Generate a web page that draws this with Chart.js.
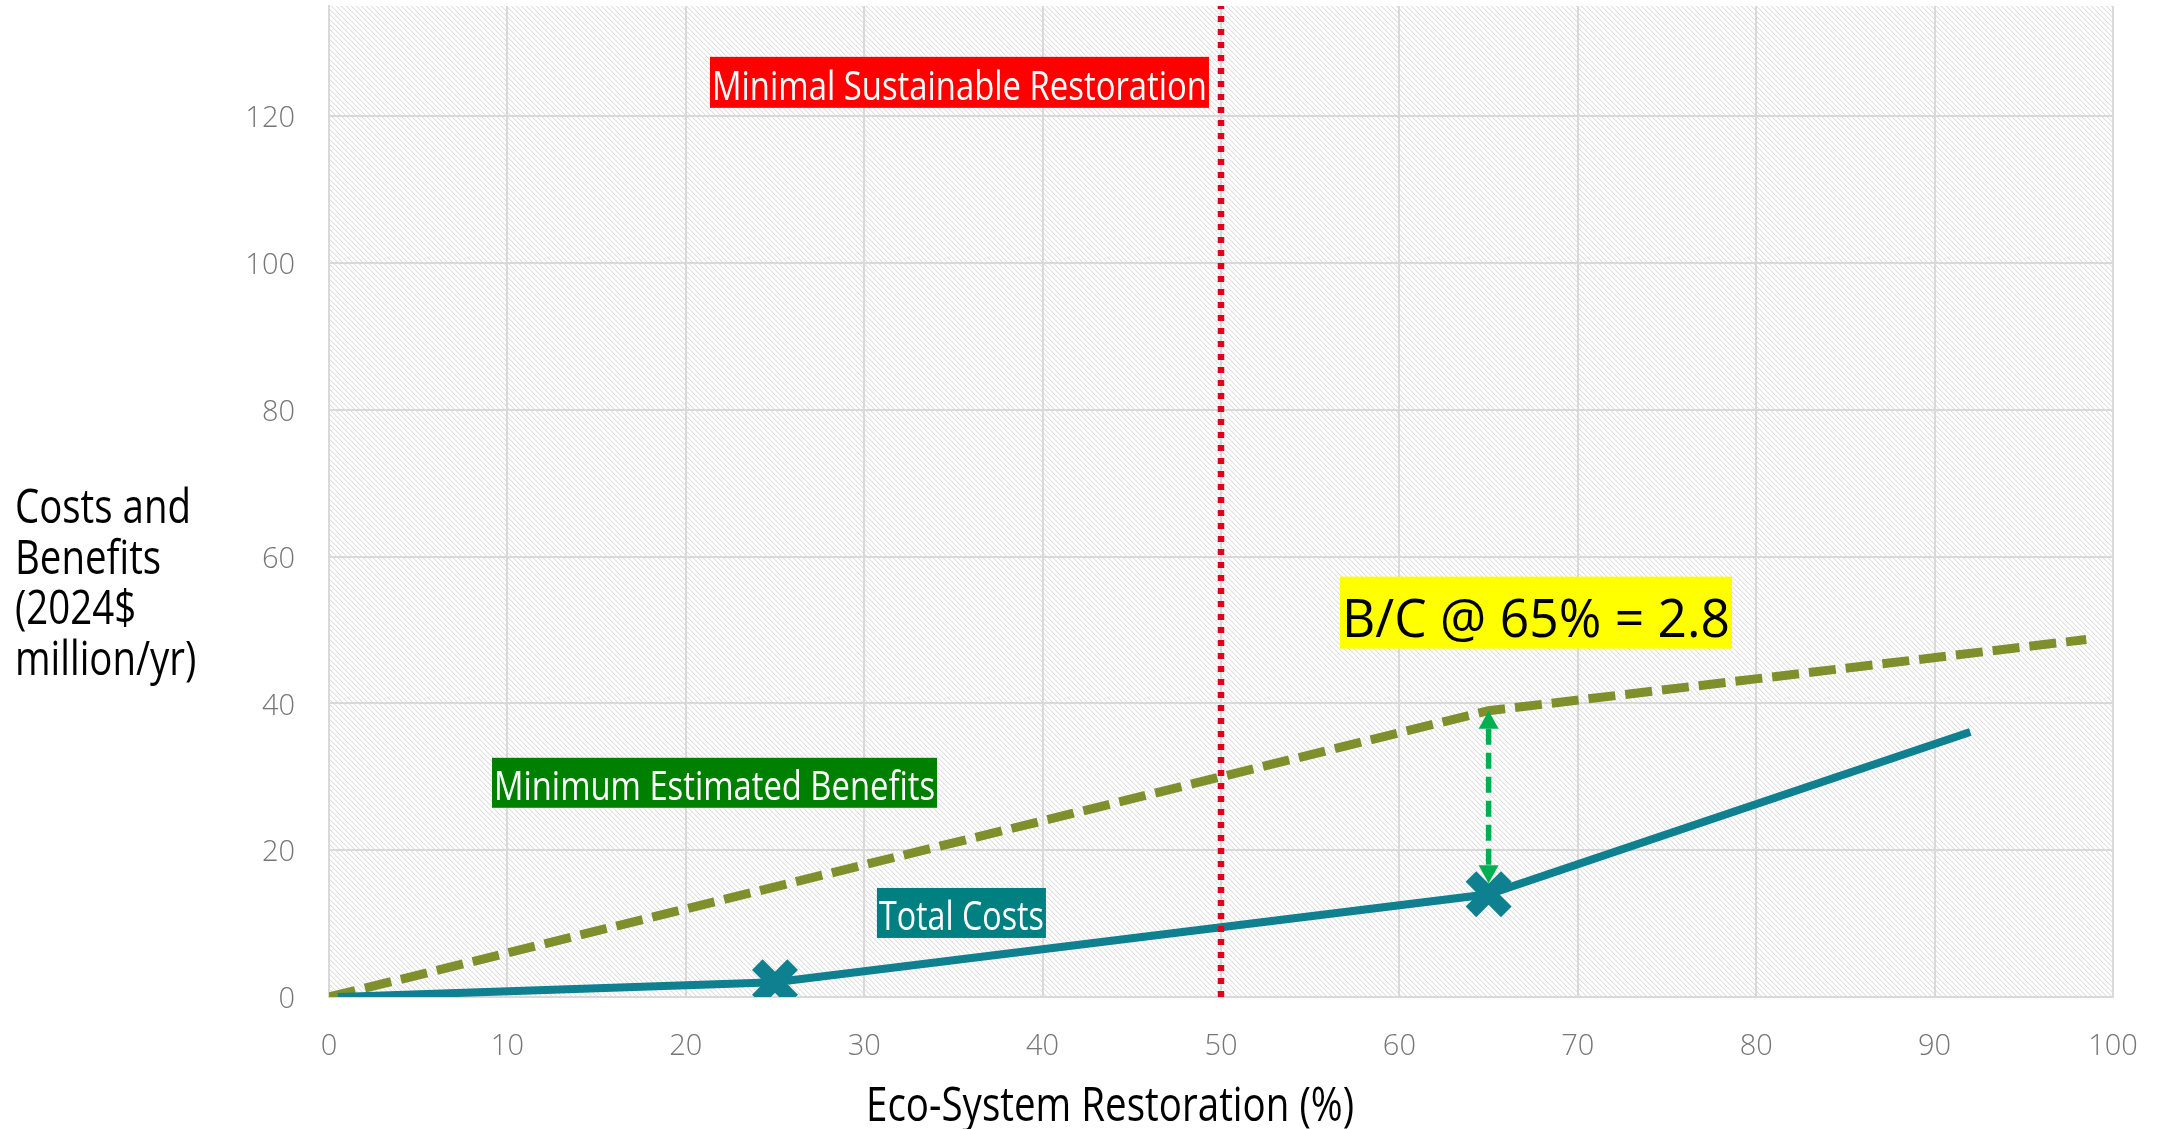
<!DOCTYPE html>
<html>
<head>
<meta charset="utf-8">
<script src="https://cdn.jsdelivr.net/npm/chart.js@4.4.1/dist/chart.umd.min.js"></script>
<style>
  html, body { margin: 0; padding: 0; background: #ffffff; }
  #wrap { width: 2160px; height: 1129px; position: relative; }
</style>
</head>
<body>
<div id="wrap"><canvas id="chart"></canvas></div>
<script>
// ---- data -------------------------------------------------------------
// Eco-system restoration (%) and annual values (2024$ million/yr)
const costX = [0.5, 25, 65, 92];
const costY = [0, 2, 14, 36.1];
const costMarked = [false, true, true, false];

const benefitX = [0, 65, 98.5];
const benefitY = [0, 39, 48.7];

const thresholdX = 50;          // minimal sustainable restoration level
const arrowX = 65;              // where the benefit/cost gap is shown
const arrowRange = [15.5, 39];  // arrow runs from just above the cost marker up to the benefit line

const xTickValues = [0, 10, 20, 30, 40, 50, 60, 70, 80, 90, 100];
const yTickValues = [0, 20, 40, 60, 80, 100, 120];

const calloutTexts = [
  'Minimal Sustainable Restoration',
  'Minimum Estimated Benefits',
  'Total Costs',
  'B/C @ 65% = 2.8'
];
const yTitleLines = ['Costs and', 'Benefits', '(2024$', 'million/yr)'];
const xTitleText = 'Eco-System Restoration (%)';

// ---- styling ------------------------------------------------------------
const FONT = '"Open Sans", "Noto Sans", sans-serif';
const GRID = '#d9d9d9';
const TICK = '#767676';

// callout boxes: centre in data units, box size in px
const calloutStyle = [
  { x: 35.34, y: 124.6, w: 499, h: 51, size: 41, base: 18, bg: '#ff0000', fg: '#ffffff' },
  { x: 21.61, y: 29.18, w: 445, h: 50, size: 40, base: 17, bg: '#008000', fg: '#ffffff' },
  { x: 35.45, y: 11.45, w: 169, h: 50, size: 40, base: 17, bg: '#008080', fg: '#ffffff' },
  { x: 67.66, y: 52.36, w: 392, h: 72, size: 53, base: 24, bg: '#ffff00', fg: '#000000' }
];

function toPoints(xs, ys) { return xs.map((x, i) => ({ x: x, y: ys[i] })); }

// light downward-diagonal hatch used as the plot background
function makeHatch(ctx) {
  const n = 5;
  const c = document.createElement('canvas');
  c.width = n; c.height = n;
  const g = c.getContext('2d');
  const img = g.createImageData(n, n);
  for (let y = 0; y < n; y++) {
    for (let x = 0; x < n; x++) {
      const k = ((x - y) % n + n) % n;
      const v = k === 0 ? 224 : (k === 1 ? 242 : 255);
      const i = (y * n + x) * 4;
      img.data[i] = img.data[i + 1] = img.data[i + 2] = v;
      img.data[i + 3] = 255;
    }
  }
  g.putImageData(img, 0, 0);
  return ctx.createPattern(c, 'repeat');
}

// text squeezed horizontally to a given width
function fitText(ctx, text, x, y, size, color, width, align) {
  ctx.save();
  ctx.font = size + 'px ' + FONT;
  const w = ctx.measureText(text).width;
  const sx = width / w;
  ctx.translate(x, y);
  ctx.scale(sx, 1);
  ctx.fillStyle = color;
  ctx.textAlign = align;
  ctx.textBaseline = 'alphabetic';
  ctx.fillText(text, 0, 0);
  ctx.restore();
  return sx;
}

const backgroundPlugin = {
  id: 'hatchBackground',
  beforeDraw(chart) {
    const { ctx, chartArea: a } = chart;
    ctx.save();
    ctx.fillStyle = makeHatch(ctx);
    ctx.fillRect(a.left, a.top, a.right - a.left, a.bottom - a.top);
    ctx.restore();
  }
};

const arrowPlugin = {
  id: 'gapArrow',
  afterDatasetsDraw(chart) {
    const { ctx } = chart;
    const xs = chart.scales.x, ys = chart.scales.y;
    const px = xs.getPixelForValue(arrowX);
    const yLow = ys.getPixelForValue(arrowRange[0]);
    const yHigh = ys.getPixelForValue(arrowRange[1]);
    const head = 18, half = 10;
    ctx.save();
    ctx.strokeStyle = '#00b050';
    ctx.fillStyle = '#00b050';
    ctx.lineWidth = 5.5;
    ctx.setLineDash([16, 8]);
    ctx.beginPath();
    ctx.moveTo(px, yHigh + head);
    ctx.lineTo(px, yLow - head);
    ctx.stroke();
    ctx.setLineDash([]);
    ctx.beginPath();
    ctx.moveTo(px, yHigh);
    ctx.lineTo(px - half, yHigh + head);
    ctx.lineTo(px + half, yHigh + head);
    ctx.closePath();
    ctx.fill();
    ctx.beginPath();
    ctx.moveTo(px, yLow);
    ctx.lineTo(px - half, yLow - head);
    ctx.lineTo(px + half, yLow - head);
    ctx.closePath();
    ctx.fill();
    ctx.restore();
  }
};

const textPlugin = {
  id: 'calloutsAndTitles',
  afterDraw(chart) {
    const { ctx } = chart;
    const xs = chart.scales.x, ys = chart.scales.y;
    calloutTexts.forEach((t, i) => {
      const s = calloutStyle[i];
      const cx = xs.getPixelForValue(s.x);
      const cy = ys.getPixelForValue(s.y);
      ctx.save();
      ctx.fillStyle = s.bg;
      ctx.fillRect(cx - s.w / 2, cy - s.h / 2, s.w, s.h);
      ctx.restore();
      fitText(ctx, t, cx, cy + s.base, s.size, s.fg, s.w - 4, 'center');
    });

    // vertical-axis title, written horizontally on four lines
    ctx.save();
    ctx.font = '47px ' + FONT;
    const sx = 176 / ctx.measureText(yTitleLines[0]).width;
    ctx.restore();
    yTitleLines.forEach((line, i) => {
      ctx.save();
      ctx.font = '47px ' + FONT;
      ctx.translate(15, 523 + i * 50.5);
      ctx.scale(sx, 1);
      ctx.fillStyle = '#000000';
      ctx.textAlign = 'left';
      ctx.fillText(line, 0, 0);
      ctx.restore();
    });

    // horizontal-axis title
    fitText(ctx, xTitleText, 1110, 1121, 47, '#000000', 488, 'center');
  }
};

const ctx = document.getElementById('chart').getContext('2d');
new Chart(ctx, {
  type: 'line',
  data: {
    datasets: [
      {
        label: 'Minimal Sustainable Restoration',
        data: [{ x: thresholdX, y: 0 }, { x: thresholdX, y: 135 }],
        borderColor: '#e0001b',
        borderWidth: 6.5,
        borderDash: [6, 7],
        pointRadius: 0,
        fill: false
      },
      {
        label: 'Total Costs',
        data: toPoints(costX, costY),
        borderColor: '#0f808f',
        borderWidth: 8,
        pointStyle: 'crossRot',
        pointRadius: costMarked.map(m => (m ? 25 : 0)),
        pointBorderWidth: 15,
        pointBorderColor: '#0f808f',
        pointBackgroundColor: '#0f808f',
        fill: false,
        tension: 0
      },
      {
        label: 'Minimum Estimated Benefits',
        data: toPoints(benefitX, benefitY),
        borderColor: '#7f8f2b',
        borderWidth: 9,
        borderDash: [27, 10],
        pointRadius: 0,
        fill: false,
        tension: 0
      }
    ]
  },
  options: {
    responsive: true,
    maintainAspectRatio: false,
    animation: false,
    devicePixelRatio: 1,
    layout: { padding: { top: 6, right: 47, bottom: 0, left: 0 } },
    plugins: {
      legend: { display: false },
      tooltip: { enabled: false }
    },
    scales: {
      x: {
        type: 'linear',
        min: 0,
        max: 100,
        afterBuildTicks(s) { s.ticks = xTickValues.map(v => ({ value: v })); },
        afterFit(s) { s.height = 132; s.paddingLeft = 0; s.paddingRight = 0; },
        grid: { color: GRID, lineWidth: 2, drawTicks: false },
        border: { display: true, color: GRID, width: 2 },
        ticks: {
          padding: 32,
          color: TICK,
          font: { family: FONT, size: 29, weight: 300 },
          maxRotation: 0,
          autoSkip: false
        }
      },
      y: {
        type: 'linear',
        min: 0,
        max: 135,
        afterBuildTicks(s) { s.ticks = yTickValues.map(v => ({ value: v })); },
        afterFit(s) { s.width = 329; s.paddingTop = 0; s.paddingBottom = 0; },
        grid: { color: GRID, lineWidth: 2, drawTicks: false },
        border: { display: true, color: GRID, width: 2 },
        ticks: {
          padding: 34,
          labelOffset: 3,
          color: TICK,
          font: { family: FONT, size: 29, weight: 300 },
          autoSkip: false
        }
      }
    }
  },
  plugins: [backgroundPlugin, arrowPlugin, textPlugin]
});
</script>
</body>
</html>
